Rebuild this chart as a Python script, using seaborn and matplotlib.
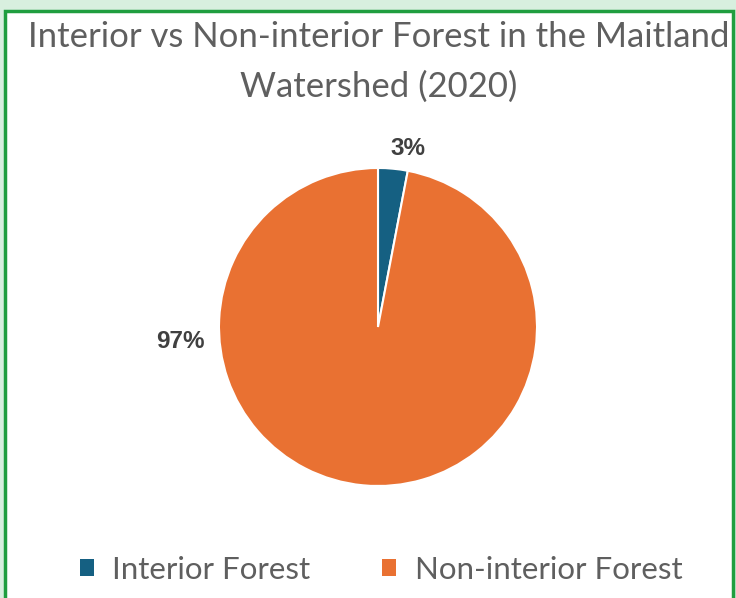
import matplotlib
matplotlib.use("Agg")
import matplotlib.pyplot as plt
from matplotlib.patches import Patch, Rectangle
import seaborn as sns

# data
categories = ["Interior Forest", "Non-interior Forest"]
shares = [3, 97]
colors = ["#156082", "#E97132"]

sns.set_theme(style="white")
plt.rcParams["font.family"] = ["Lato", "DejaVu Sans"]

fig = plt.figure(figsize=(7.36, 5.98), dpi=100)
fig.patch.set_facecolor("#d8efdf")

# white chart area with green frame (screenshot look)
fig.patches.append(Rectangle((5 / 736, -0.05), 728 / 736, 1.05 - 11 / 598,
                             transform=fig.transFigure, facecolor="white",
                             edgecolor="#1f9e3f", linewidth=2.5, zorder=-5))

r = 159
ax = fig.add_axes([(378 - r) / 736, (598 - 327 - r) / 598, 2 * r / 736, 2 * r / 598])
ax.set_zorder(2)
ax.patch.set_alpha(0)
wedges, _ = ax.pie(shares, colors=colors, startangle=90, counterclock=False,
                   wedgeprops=dict(edgecolor="white", linewidth=1.5))
ax.set_aspect("equal")
ax.set_xlim(-1, 1)
ax.set_ylim(-1, 1)
ax.axis("off")

# data labels (best-fit style positions)
label_pos = [(0.19, 1.12), (-1.24, -0.09)]
for (x, y), v in zip(label_pos, shares):
    ax.text(x, y, f"{v}%", ha="center", va="center", fontsize=17.5,
            fontweight="bold", color="#404040", family=["Liberation Sans", "DejaVu Sans"])

fig.text(0.515, 1 - 37 / 598, "Interior vs Non-interior Forest in the Maitland",
         ha="center", va="center", fontsize=25, color="#5f5f5f")
fig.text(0.515, 1 - 87 / 598, "Watershed (2020)",
         ha="center", va="center", fontsize=25, color="#5f5f5f")

handles = [Patch(facecolor=c, edgecolor="none") for c in colors]
fig.legend(handles, categories, loc="center", bbox_to_anchor=(0.518, 1 - 570 / 598),
           ncol=2, frameon=False, fontsize=22.5, handlelength=0.45, handleheight=0.45,
           handletextpad=0.6, columnspacing=2.3, labelcolor="#5f5f5f")

fig.savefig("out.png", dpi=100, facecolor=fig.get_facecolor())
